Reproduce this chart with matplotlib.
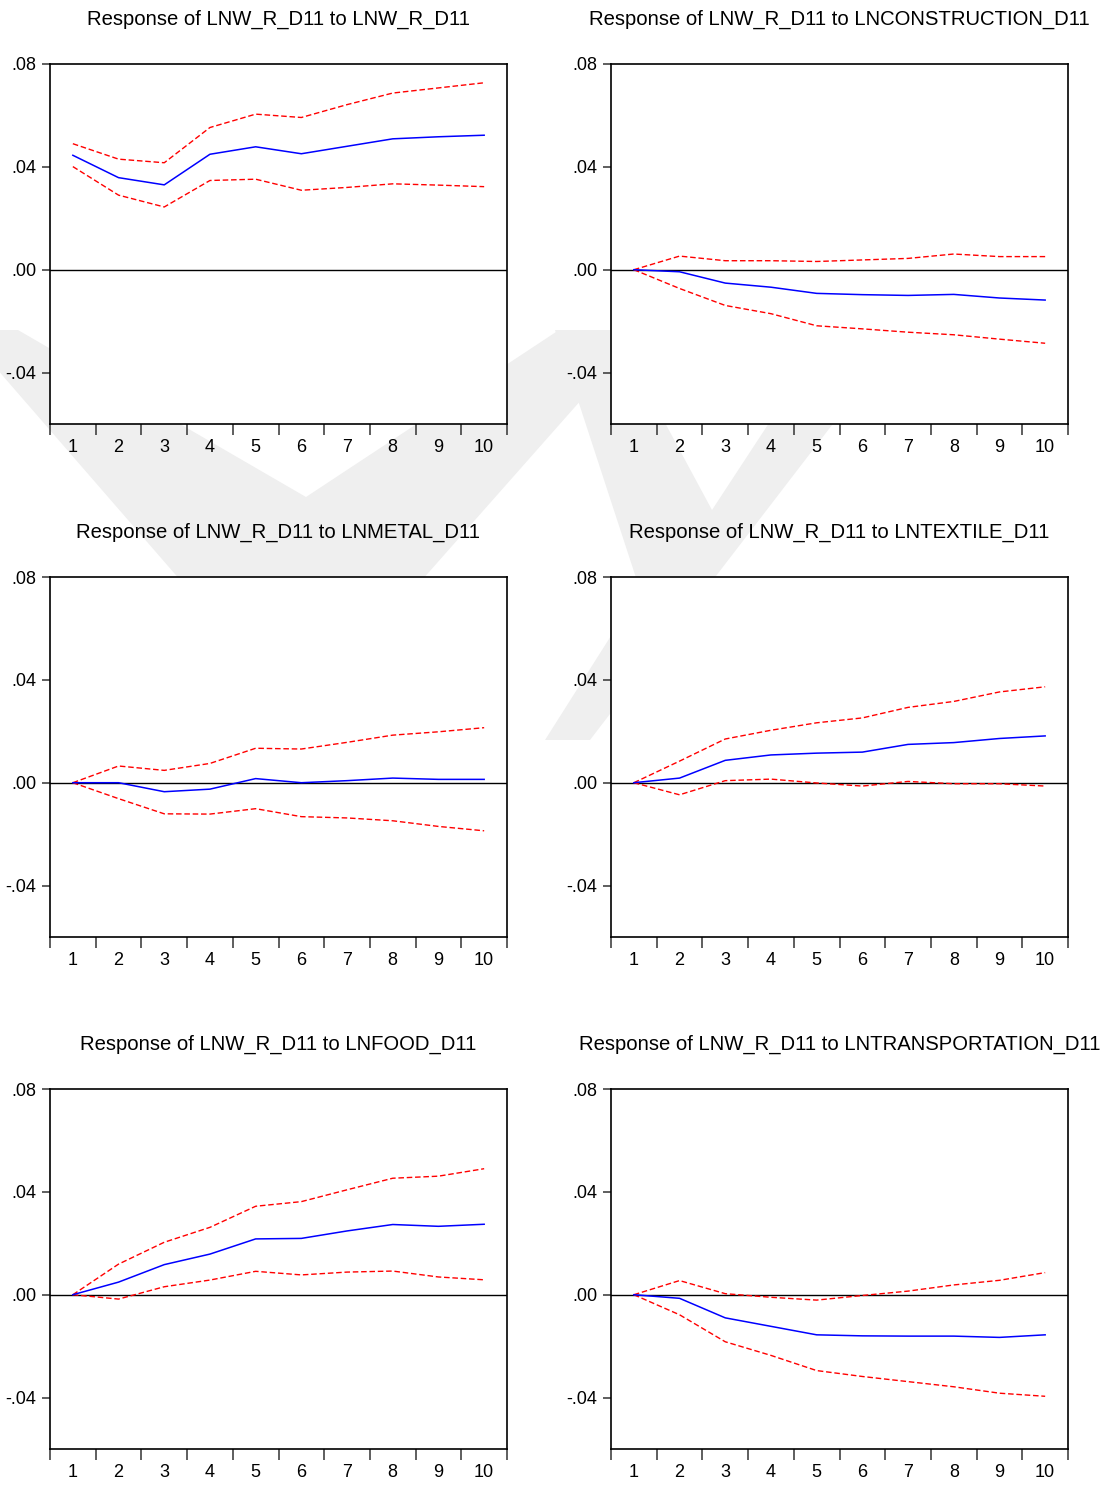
"""Impulse responses of LNW_R_D11 (EViews style 3x2 grid)"""

import numpy as np
import matplotlib
matplotlib.use("Agg")
from matplotlib import pyplot as plt
from matplotlib.patches import Polygon

#######################################################################
# ****** Fonts / general look ******
plt.rcParams['font.family'] = ['Liberation Sans', 'DejaVu Sans']
plt.rcParams['axes.linewidth'] = 1.2
########################################################################

periods = list(range(1, 11))

titles = [
    "Response of LNW_R_D11 to LNW_R_D11",
    "Response of LNW_R_D11 to LNCONSTRUCTION_D11",
    "Response of LNW_R_D11 to LNMETAL_D11",
    "Response of LNW_R_D11 to LNTEXTILE_D11",
    "Response of LNW_R_D11 to LNFOOD_D11",
    "Response of LNW_R_D11 to LNTRANSPORTATION_D11",
]

# --- response (blue) and +/- 2 S.E. bands (red) ---
resp_w = [0.0445, 0.0358, 0.0330, 0.0449, 0.0478, 0.0451, 0.0480, 0.0509, 0.0517, 0.0523]
upper_w = [0.0490, 0.0430, 0.0416, 0.0553, 0.0605, 0.0592, 0.0642, 0.0687, 0.0707, 0.0727]
lower_w = [0.0401, 0.0290, 0.0244, 0.0347, 0.0352, 0.0309, 0.0320, 0.0334, 0.0329, 0.0323]

resp_con = [0.0, -0.0008, -0.0052, -0.0068, -0.0092, -0.0097, -0.0100, -0.0096, -0.0110, -0.0118]
upper_con = [0.0, 0.0053, 0.0035, 0.0035, 0.0032, 0.0038, 0.0044, 0.0061, 0.0051, 0.0051]
lower_con = [0.0, -0.0073, -0.0139, -0.0171, -0.0218, -0.0230, -0.0243, -0.0253, -0.0270, -0.0286]

resp_met = [0.0, 0.0, -0.0035, -0.0025, 0.0016, 0.0, 0.0008, 0.0018, 0.0013, 0.0013]
upper_met = [0.0, 0.0065, 0.0048, 0.0075, 0.0134, 0.0131, 0.0157, 0.0185, 0.0198, 0.0214]
lower_met = [0.0, -0.0062, -0.0121, -0.0122, -0.0101, -0.0132, -0.0137, -0.0148, -0.0170, -0.0187]

resp_tex = [0.0, 0.0018, 0.0087, 0.0108, 0.0115, 0.0119, 0.0149, 0.0156, 0.0172, 0.0182]
upper_tex = [0.0, 0.0084, 0.0170, 0.0204, 0.0233, 0.0252, 0.0293, 0.0316, 0.0353, 0.0373]
lower_tex = [0.0, -0.0047, 0.0008, 0.0014, -0.0001, -0.0013, 0.0005, -0.0004, -0.0004, -0.0013]

resp_food = [0.0, 0.0049, 0.0117, 0.0158, 0.0217, 0.0219, 0.0248, 0.0273, 0.0266, 0.0274]
upper_food = [0.0, 0.0119, 0.0204, 0.0262, 0.0344, 0.0362, 0.0408, 0.0453, 0.0461, 0.0490]
lower_food = [0.0, -0.0017, 0.0031, 0.0057, 0.0091, 0.0077, 0.0088, 0.0092, 0.0069, 0.0058]

resp_tr = [0.0, -0.0014, -0.0090, -0.0123, -0.0156, -0.0160, -0.0161, -0.0161, -0.0166, -0.0156]
upper_tr = [0.0, 0.0055, 0.0004, -0.0010, -0.0021, -0.0003, 0.0014, 0.0038, 0.0056, 0.0086]
lower_tr = [0.0, -0.0078, -0.0183, -0.0236, -0.0295, -0.0318, -0.0338, -0.0358, -0.0383, -0.0395]

y_ticks = [0.08, 0.04, 0.0, -0.04]
y_tick_labels = [".08", ".04", ".00", "-.04"]

panels = [
    (resp_w, upper_w, lower_w),
    (resp_con, upper_con, lower_con),
    (resp_met, upper_met, lower_met),
    (resp_tex, upper_tex, lower_tex),
    (resp_food, upper_food, lower_food),
    (resp_tr, upper_tr, lower_tr),
]

W, H = 1110, 1486
fig = plt.figure(figsize=(W / 100, H / 100), dpi=100)


def px(x, y):
    """pixel (from top-left) -> figure fraction"""
    return (x / W, 1 - y / H)


# --- faint background watermark (drawn behind the white axes) ---
wm_color = "#efefef"
wm_shapes = [
    [(-37, 330), (18, 330), (306, 497), (559, 330), (643, 330), (300, 718)],
    [(555, 330), (615, 330), (712, 510), (830, 330), (905, 330),
     (590, 740), (545, 740), (640, 590)],
]
for shp in wm_shapes:
    fig.add_artist(Polygon([px(*p) for p in shp], closed=True,
                           transform=fig.transFigure, facecolor=wm_color,
                           edgecolor="none", zorder=-1))

# axes boxes in pixels: left, top, width, height
col_left = [50, 611]
row_top = [64, 577, 1089]
box_w, box_h = 457, 360

for k, (resp, upper, lower) in enumerate(panels):
    r, c = divmod(k, 2)
    left, top = col_left[c], row_top[r]
    ax = fig.add_axes([left / W, 1 - (top + box_h) / H, box_w / W, box_h / H])
    ax.set_facecolor("white")

    ax.axhline(0, color="black", lw=1.0, zorder=1)
    ax.plot(periods, upper, color="#ff0000", lw=1.0, ls=(0, (4, 2)), zorder=2)
    ax.plot(periods, lower, color="#ff0000", lw=1.0, ls=(0, (4, 2)), zorder=2)
    ax.plot(periods, resp, color="#0000ff", lw=1.1, zorder=3)

    ax.set_xlim(0.5, 10.5)
    ax.set_ylim(-0.06, 0.08)

    # category boundaries carry the tick marks, centres carry the labels
    ax.set_xticks(np.arange(0.5, 11, 1.0))
    ax.set_xticklabels([])
    ax.set_xticks(periods, minor=True)
    ax.set_xticklabels([str(p) for p in periods], minor=True)
    ax.tick_params(axis="x", which="major", direction="out", length=8,
                   width=1.1, color="#333333")
    ax.tick_params(axis="x", which="minor", length=0, pad=10.5, labelsize=13)

    ax.set_yticks(y_ticks)
    ax.set_yticklabels(y_tick_labels)
    ax.tick_params(axis="y", direction="out", length=6, width=1.1,
                   color="#333333", pad=4, labelsize=13)

    for sp in ax.spines.values():
        sp.set_color("black")

    ax.text(0.5, 1 + 45 / box_h, titles[k], transform=ax.transAxes,
            ha="center", va="center", fontsize=14.6)

fig.savefig("out.png", dpi=100)
plt.close(fig)
